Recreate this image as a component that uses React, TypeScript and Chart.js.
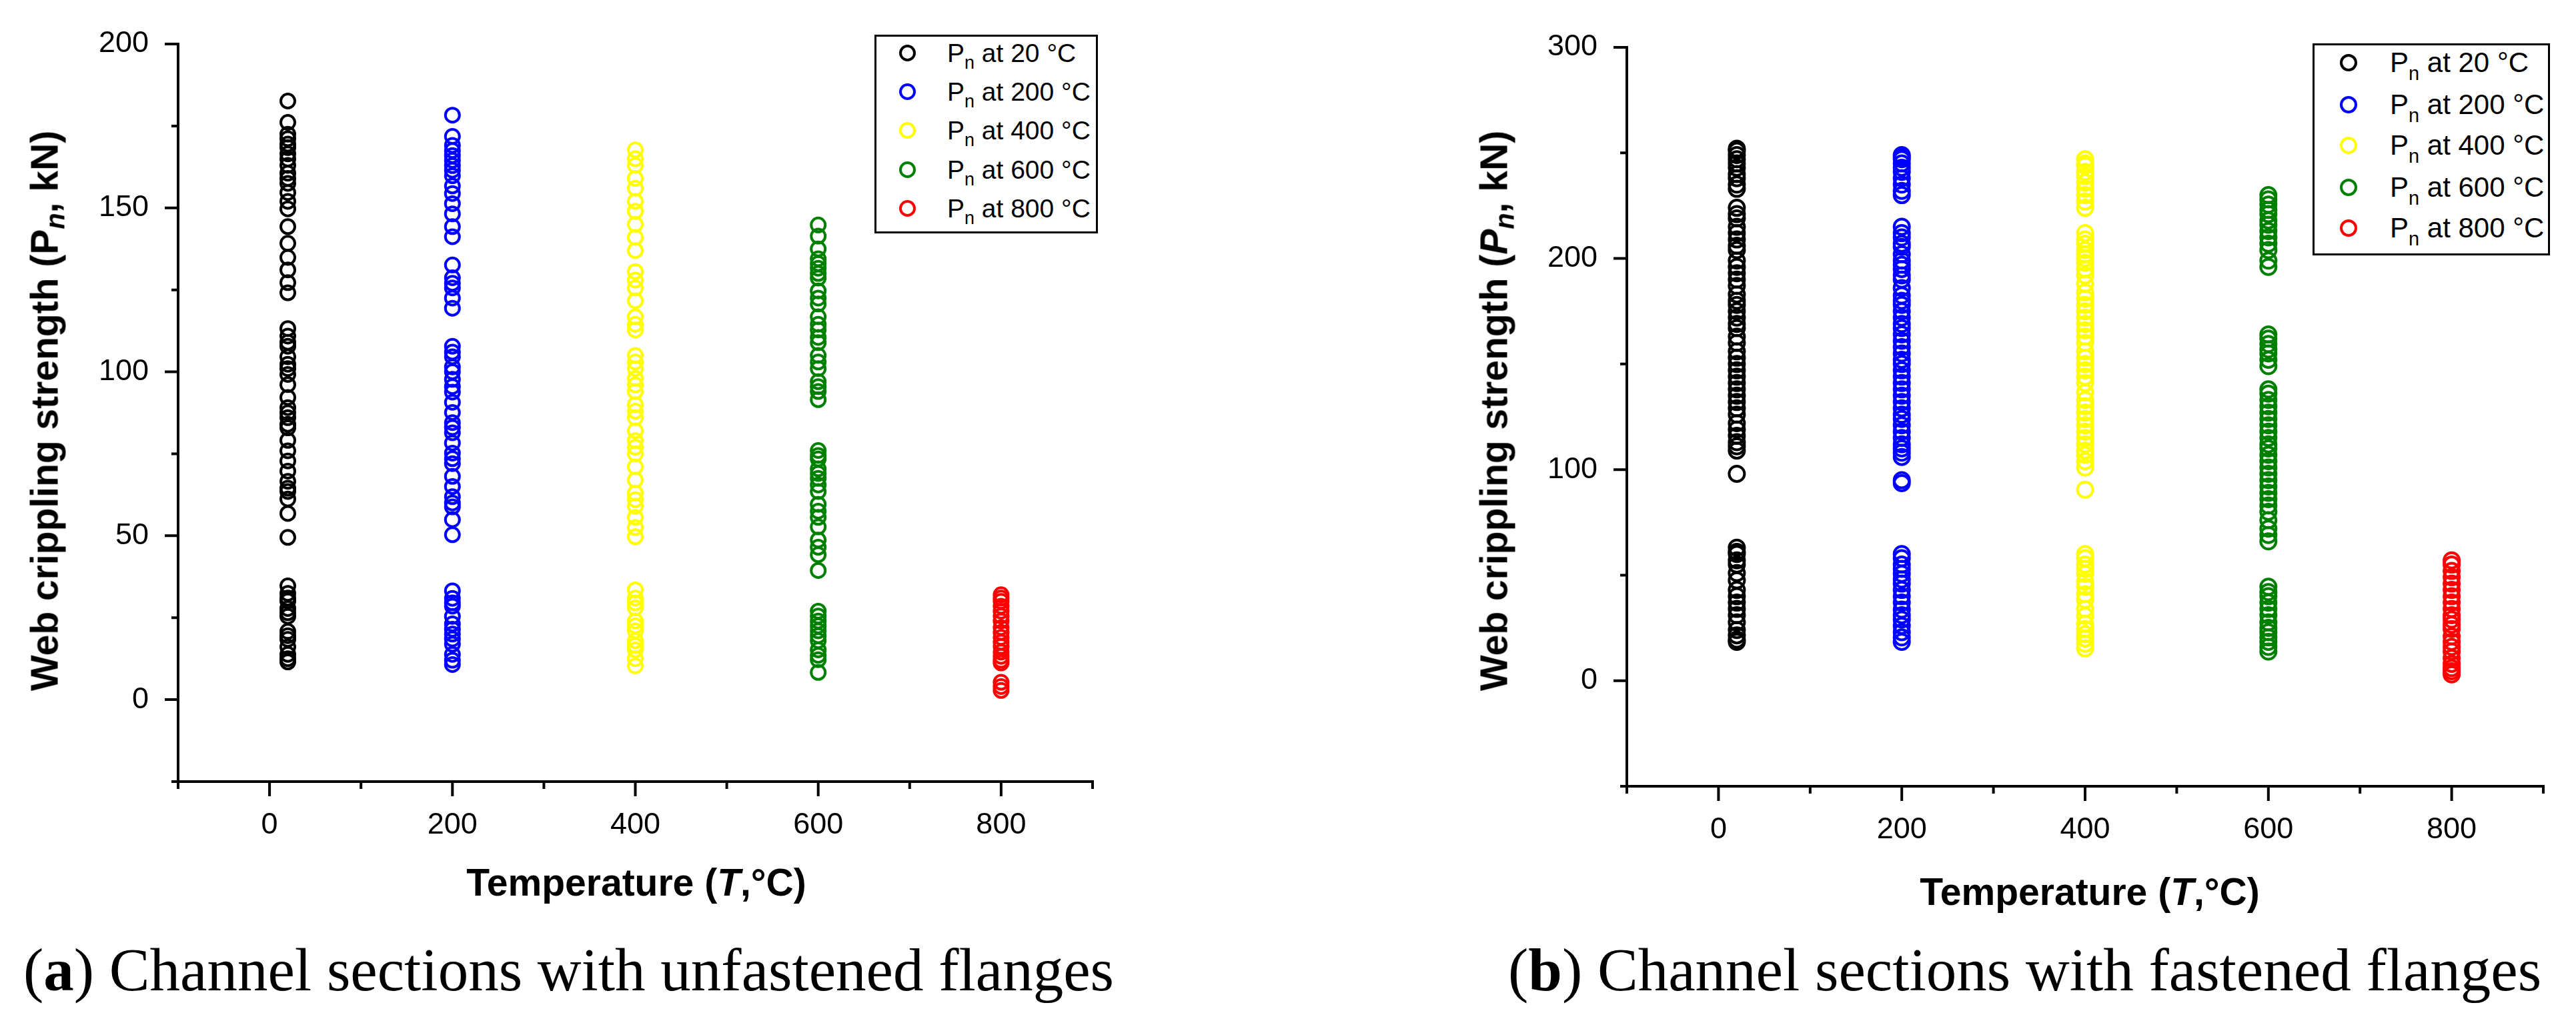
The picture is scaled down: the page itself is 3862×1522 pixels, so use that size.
import React, { useEffect, useRef } from "react";
import { Chart, registerables } from "chart.js";

Chart.register(...registerables);

// ---------- data ----------
const TEMPERATURES = [20, 200, 400, 600, 800];
const SERIES_NAMES = ["20", "200", "400", "600", "800"];
const SERIES_COLORS = ["#000000", "#0000ff", "#ffff00", "#008000", "#ff0000"];

const X_TICK_VALUES = [-100, 0, 100, 200, 300, 400, 500, 600, 700, 800, 900];
const X_TICK_LABELS = [0, 200, 400, 600, 800];

const A_Y_TICK_VALUES = [-25, 0, 25, 50, 75, 100, 125, 150, 175, 200];
const A_Y_TICK_LABELS = [0, 50, 100, 150, 200];
const B_Y_TICK_VALUES = [-50, 0, 50, 100, 150, 200, 250, 300];
const B_Y_TICK_LABELS = [0, 100, 200, 300];

// (a) unfastened flanges
const A_P20 = [182.6, 176.1, 172.5, 171.1, 169.5, 168.4, 166.5, 164.9, 163, 160.6, 159, 157.5, 154.7, 152, 149.7, 144.3, 139.2, 134.9, 131.1, 127.2, 124.1, 113.2, 110.9, 109, 107.8, 104.6, 102.3, 101, 99.2, 96.1, 92.2, 89.1, 87.5, 86, 84, 82.9, 79.1, 75.9, 72.8, 69.7, 66.6, 64.5, 63.5, 61.2, 56.8, 49.5, 34.7, 32.4, 31, 30.1, 27.8, 26.5, 25.4, 20.8, 19.5, 18.4, 16.1, 13.8, 12.5, 11.5];
const A_P200 = [178.3, 171.8, 169.1, 167.5, 166, 164.5, 162.9, 161.5, 159.8, 156.7, 154.4, 151.3, 148.2, 144.3, 141.2, 132.6, 128.7, 127, 125.6, 122.5, 119.4, 107.8, 106, 104.6, 101.5, 100, 97.7, 95.5, 93.8, 90.7, 87.6, 84.5, 83, 81.4, 78.3, 75.2, 73.5, 72, 68.1, 65, 61.9, 60, 58.8, 54.9, 50.3, 33.2, 30.9, 29.5, 28.5, 25.4, 23.1, 21.5, 20, 18.5, 16.9, 13.8, 12, 10.7];
const A_P400 = [167.7, 165, 163, 159, 156, 152, 149, 145, 141, 137, 130.6, 128, 125.6, 121.7, 116.8, 114.5, 112.8, 105, 103, 101, 98, 96, 94, 90, 88, 86, 82, 79, 77, 75, 71, 67, 63, 61, 59, 55.6, 52.5, 49.7, 33.5, 31, 29.5, 28, 24, 22.5, 21, 18, 16.5, 15.2, 12.5, 10.3];
const A_P600 = [144.8, 141.4, 137.5, 134.5, 133, 131.6, 130, 128.6, 124.7, 122.5, 120.7, 116.8, 114.5, 112.8, 110.5, 108.9, 105, 103, 101, 97, 95.5, 94, 91.5, 76, 74.5, 73.4, 70.4, 69, 67.5, 65.5, 63.5, 59.6, 57.5, 55.6, 52.7, 48.7, 46.5, 44.2, 39.4, 27, 25.5, 24, 22.5, 21, 19.5, 18, 15.2, 13.5, 12.2, 8.3];
const A_P800 = [32, 31, 30, 28.5, 27, 25.5, 24, 22, 20.5, 19, 17.5, 16.2, 14.5, 13.2, 12, 11.2, 5.3, 4, 2.8];

// (b) fastened flanges
const B_P20 = [252, 251, 249, 247, 245, 243, 240, 238, 235, 233, 224, 221, 219, 215, 212, 209, 206, 204, 199, 196, 193, 190, 187, 183, 180, 178, 175, 172, 169, 167, 163, 160, 156, 153, 150, 147, 144, 141, 138, 135, 132, 129, 126, 122, 119, 116, 113, 111, 109, 98, 63, 61, 60, 57, 55, 51, 47.5, 43, 40, 37, 34, 31, 27.6, 24, 21.5, 19.5, 18.4];
const B_P200 = [249, 248, 247, 245, 243, 241, 238, 235, 232, 230, 215, 212, 210, 207, 205.5, 202, 199, 197, 195, 192, 190, 186, 182.5, 180, 178, 175, 172, 169, 167, 164, 161, 158, 155, 152, 150, 147, 144, 141, 138, 135, 132, 129, 126, 124, 121, 118, 115, 112, 110, 108, 106, 95, 93.6, 60, 58, 55, 53, 50.6, 48, 46, 43, 40, 37, 33.7, 31, 29, 26, 23, 20.5, 18.4];
const B_P400 = [247, 245, 244, 241, 239, 236, 233, 230, 227, 224, 212, 209, 207, 204, 202, 200, 198, 195, 192, 188, 184, 181, 178, 175, 172, 169, 166, 163, 160, 156, 153, 150, 147, 144, 141, 136.5, 133, 130, 127, 124, 121, 118, 115, 112, 109, 107, 104, 101, 90.5, 60, 58, 55, 53, 50.6, 47, 44.5, 41, 38.3, 34, 30.7, 27, 24.5, 22, 20, 17.5, 15.3];
const B_P600 = [230, 228, 225.5, 223, 221, 218, 216, 213, 210, 207, 204, 199, 196, 164, 162, 159.5, 157, 155, 152, 149, 138, 136, 133, 130, 127, 124, 121, 118, 115, 112, 110, 107, 104, 101, 98, 95, 92, 89, 86, 83, 80, 76, 72, 69, 66, 44.5, 42, 40, 37, 34, 31, 27.6, 25, 23, 20.5, 18.4, 16, 13.8];
const B_P800 = [57, 55, 52, 49, 46, 43, 40, 37, 34, 31, 29, 26.5, 24.5, 21, 18.4, 16, 13.8, 10.7, 8, 6, 4.5, 3];

// ---------- drawing ----------
const W = 3862;
const H = 1522;
const SANS = "'Liberation Sans', Arial, sans-serif";
const SERIF = "'Liberation Serif', 'Times New Roman', serif";

const axesPlugin = {
  id: "originAxes",
  afterDraw(chart: any, _args: any, opts: any) {
    const ctx = chart.ctx;
    const xs = chart.scales.x;
    const ys = chart.scales.y;
    const lw = 4;
    const left = xs.getPixelForValue(xs.min);
    const right = xs.getPixelForValue(xs.max);
    const top = ys.getPixelForValue(ys.max);
    const bottom = ys.getPixelForValue(ys.min);
    ctx.save();
    ctx.strokeStyle = "#000";
    ctx.lineWidth = lw;
    ctx.lineCap = "butt";
    ctx.beginPath();
    ctx.moveTo(left, top - lw / 2);
    ctx.lineTo(left, bottom + lw / 2);
    ctx.moveTo(left - lw / 2, bottom);
    ctx.lineTo(right + lw / 2, bottom);
    for (const v of opts.xTicks) {
      const px = xs.getPixelForValue(v);
      const len = opts.xLabels.includes(v) ? 22 : 11;
      ctx.moveTo(px, bottom);
      ctx.lineTo(px, bottom + len);
    }
    for (const v of opts.yTicks) {
      const py = ys.getPixelForValue(v);
      const len = opts.yLabels.includes(v) ? 20 : 10;
      ctx.moveTo(left, py);
      ctx.lineTo(left - len, py);
    }
    ctx.stroke();
    ctx.restore();
  },
};

type Panel = {
  series: number[][];
  yMin: number;
  yMax: number;
  yStep: number;
  yTicks: number[];
  yLabels: number[];
  padding: { left: number; top: number; right: number; bottom: number };
  yAxisWidth: number;
  pointRadius: number;
};

const PANEL_A: Panel = {
  series: [A_P20, A_P200, A_P400, A_P600, A_P800],
  yMin: -25,
  yMax: 200,
  yStep: 25,
  yTicks: A_Y_TICK_VALUES,
  yLabels: A_Y_TICK_LABELS,
  padding: { left: 0, top: 66, right: W - 1638, bottom: H - 1172 - 100 },
  yAxisWidth: 267,
  pointRadius: 10.5,
};

const PANEL_B: Panel = {
  series: [B_P20, B_P200, B_P400, B_P600, B_P800],
  yMin: -50,
  yMax: 300,
  yStep: 50,
  yTicks: B_Y_TICK_VALUES,
  yLabels: B_Y_TICK_LABELS,
  padding: { left: 2439 - 300, top: 71, right: W - 3813, bottom: H - 1179 - 100 },
  yAxisWidth: 300,
  pointRadius: 11.5,
};

function buildConfig(p: Panel): any {
  const tickFont = { family: SANS, size: 45 };
  return {
    type: "scatter",
    data: {
      datasets: p.series.map((vals, i) => ({
        label: `Pn at ${SERIES_NAMES[i]} °C`,
        data: vals.map((y) => ({ x: TEMPERATURES[i], y })),
        pointStyle: "circle",
        pointRadius: p.pointRadius,
        pointBorderWidth: 4,
        pointBorderColor: SERIES_COLORS[i],
        pointBackgroundColor: "rgba(0,0,0,0)",
        borderColor: SERIES_COLORS[i],
        backgroundColor: "rgba(0,0,0,0)",
        showLine: false,
        clip: false,
      })),
    },
    options: {
      animation: false,
      responsive: false,
      events: [],
      layout: { padding: p.padding },
      plugins: {
        legend: { display: false },
        tooltip: { enabled: false },
        title: { display: false },
        originAxes: {
          xTicks: X_TICK_VALUES,
          xLabels: X_TICK_LABELS,
          yTicks: p.yTicks,
          yLabels: p.yLabels,
        },
      },
      scales: {
        x: {
          type: "linear",
          min: -100,
          max: 900,
          grid: { display: false },
          border: { display: false },
          ticks: {
            stepSize: 100,
            autoSkip: false,
            maxRotation: 0,
            padding: 31,
            color: "#000",
            font: tickFont,
            callback: (v: any) => (X_TICK_LABELS.includes(Number(v)) ? String(v) : ""),
          },
          afterFit: (s: any) => {
            s.height = 100;
          },
        },
        y: {
          type: "linear",
          min: p.yMin,
          max: p.yMax,
          grid: { display: false },
          border: { display: false },
          ticks: {
            stepSize: p.yStep,
            autoSkip: false,
            padding: 36,
            color: "#000",
            font: tickFont,
            callback: (v: any) => (p.yLabels.includes(Number(v)) ? String(v) : ""),
          },
          afterFit: (s: any) => {
            s.width = p.yAxisWidth;
          },
        },
      },
    },
    plugins: [axesPlugin],
  };
}

function ChartCanvas({ panel }: { panel: Panel }) {
  const ref = useRef<HTMLCanvasElement | null>(null);
  useEffect(() => {
    if (!ref.current) return;
    const chart = new Chart(ref.current, buildConfig(panel));
    return () => chart.destroy();
  }, [panel]);
  return (
    <canvas
      ref={ref}
      width={W}
      height={H}
      style={{ position: "absolute", left: 0, top: 0, width: W, height: H }}
    />
  );
}

type LegendSpec = {
  left: number;
  top: number;
  width: number;
  height: number;
  rows: number[];
  markerX: number;
  textX: number;
  font: number;
  marker: number;
};

const LEGEND_A: LegendSpec = { left: 1311, top: 52, width: 335, height: 298, rows: [79, 137, 195, 254, 312], markerX: 1360, textX: 1420, font: 39, marker: 25 };
const LEGEND_B: LegendSpec = { left: 3467, top: 65, width: 356, height: 318, rows: [94, 157, 218, 281, 342], markerX: 3521, textX: 3583, font: 42, marker: 26 };

function HtmlLegend({ spec }: { spec: LegendSpec }) {
  return (
    <>
      <div
        style={{
          position: "absolute",
          left: spec.left,
          top: spec.top,
          width: spec.width,
          height: spec.height,
          border: "3px solid #000",
          boxSizing: "border-box",
          background: "#fff",
        }}
      />
      {SERIES_NAMES.map((name, i) => (
        <React.Fragment key={name}>
          <div
            style={{
              position: "absolute",
              left: spec.markerX - spec.marker / 2,
              top: spec.rows[i] - spec.marker / 2,
              width: spec.marker,
              height: spec.marker,
              borderRadius: "50%",
              border: `4px solid ${SERIES_COLORS[i]}`,
              boxSizing: "border-box",
            }}
          />
          <div
            style={{
              position: "absolute",
              left: spec.textX,
              top: spec.rows[i] - spec.font / 2,
              height: spec.font,
              lineHeight: `${spec.font}px`,
              fontFamily: SANS,
              fontSize: spec.font,
              color: "#000",
              whiteSpace: "nowrap",
            }}
          >
            P
            <span style={{ fontSize: "0.69em", position: "relative", top: spec.font * 0.28 }}>n</span>
            {` at ${name} °C`}
          </div>
        </React.Fragment>
      ))}
    </>
  );
}

const titleStyle = (cx: number, cy: number, rotate: boolean): React.CSSProperties => ({
  position: "absolute",
  left: cx,
  top: cy,
  transform: `translate(-50%, -50%)${rotate ? " rotate(-90deg)" : ""}`,
  fontFamily: SANS,
  fontWeight: "bold",
  fontSize: 57,
  lineHeight: "57px",
  whiteSpace: "nowrap",
  color: "#000",
});

const subStyle: React.CSSProperties = { fontSize: "0.7em", position: "relative", top: "0.25em", fontStyle: "italic" };

export default function App() {
  useEffect(() => {
    document.body.style.margin = "0";
  }, []);
  return (
    <div style={{ position: "absolute", left: 0, top: 0, width: W, height: H, background: "#fff", overflow: "hidden" }}>
      <ChartCanvas panel={PANEL_A} />
      <ChartCanvas panel={PANEL_B} />
      <HtmlLegend spec={LEGEND_A} />
      <HtmlLegend spec={LEGEND_B} />

      <div style={titleStyle(954, 1323, false)}>
        Temperature (<i>T</i>,°C)
      </div>
      <div style={titleStyle(3133, 1337, false)}>
        Temperature (<i>T</i>,°C)
      </div>
      <div style={titleStyle(70, 616, true)}>
        Web crippling strength (P<span style={subStyle}>n</span>, kN)
      </div>
      <div style={titleStyle(2243, 616, true)}>
        Web crippling strength (<i>P</i>
        <span style={subStyle}>n</span>, kN)
      </div>

      <div style={{ position: "absolute", left: 35, top: 1409, fontFamily: SERIF, fontSize: 91, lineHeight: "91px", whiteSpace: "nowrap", color: "#000" }}>
        (<b>a</b>) Channel sections with unfastened flanges
      </div>
      <div style={{ position: "absolute", left: 2261, top: 1409, fontFamily: SERIF, fontSize: 91, lineHeight: "91px", whiteSpace: "nowrap", color: "#000" }}>
        (<b>b</b>) Channel sections with fastened flanges
      </div>
    </div>
  );
}
